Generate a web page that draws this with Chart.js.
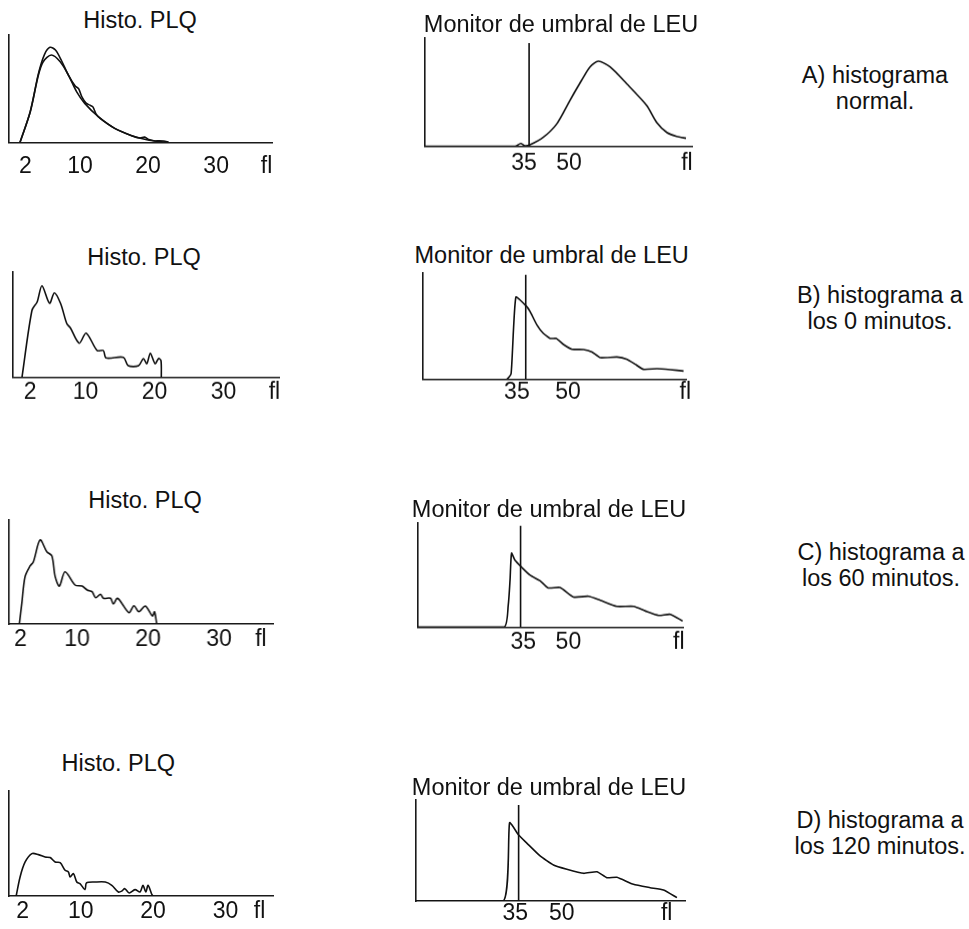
<!DOCTYPE html>
<html lang="es">
<head>
<meta charset="utf-8">
<title>Histogramas PLQ y monitor de umbral de LEU</title>
<script src="https://cdn.jsdelivr.net/npm/chart.js@4.4.1/dist/chart.umd.min.js"></script>
<style>
    html, body { margin: 0; padding: 0; background: #fff; }
    body { position: relative; width: 969px; height: 929px; overflow: hidden; font-family: "Liberation Sans", Arial, sans-serif; color: #111; }
    .panel { position: absolute; }
    .label { position: absolute; transform: translate(-50%, -50%); white-space: nowrap; font-size: 23.5px; line-height: 26px; text-align: center; }
</style>
</head>
<body>
<script>
const plqTicks = [2, 10, 20, 30];
const leuTicks = [35, 50];
const unitLabel = 'fl';

// A) histograma normal
const plqAFl = [1.2, 2.7, 3.9, 4.6, 5.8, 7.1, 8.3, 9.5, 10.7, 12.7, 15.1, 17.6, 19.5, 21.0, 23.0];
const plqASmooth = [0, 28.5, 62.7, 75.1, 81.4, 75.1, 62.7, 47.2, 36.3, 23.9, 13.0, 6.2, 2.8, 1.2, 0];
const plqAMeasFl = [1.2, 2.7, 3.9, 4.8, 5.6, 6.4, 7.3, 8.3, 9.3, 9.8, 10.3, 10.9, 11.5, 11.9, 12.4, 13.0, 15.1, 17.6, 18.8, 19.5, 20.1, 21.0, 21.6, 22.3, 23.0];
const plqAMeas = [0, 28.5, 64, 82, 88.5, 86, 76, 62.7, 52.5, 50, 42, 36.5, 34.5, 33, 26, 22, 13, 6.2, 4, 4.8, 2.5, 1.2, 1.4, 1.2, 0];
const leuAFl = [2, 32, 33.9, 35.3, 37, 41.4, 45.9, 50.3, 54.2, 57, 59.8, 63.7, 69.2, 75.9, 79.2, 82.6, 85.9, 89];
const leuA = [0, 0, 2.5, 0.5, 1.4, 8.2, 20.6, 42.3, 60.9, 73.3, 78.6, 73.3, 57.9, 37.7, 22.1, 12.8, 9.1, 7.3];

// B) 0 minutos
const plqBFl = [0.8, 2.25, 3.0, 3.7, 4.8, 5.5, 6.4, 7.3, 7.8, 9.1, 10.1, 11.7, 12.6, 13.0, 15.5, 16.2, 17.7, 18.4, 18.9, 19.4, 20.1, 20.6, 20.95, 21.0];
const plqB = [0, 63.7, 71.6, 86.9, 70.4, 80.2, 70.1, 51.0, 47.2, 32.5, 42.0, 25.5, 25.5, 18.5, 19.1, 11.2, 11.2, 17.9, 13.1, 22.9, 13.1, 17.9, 16, 0];
const leuBFl = [7.4, 31.9, 33.3, 34.7, 37.9, 38.9, 40.9, 42.8, 44.8, 46.6, 48.7, 51.2, 54.6, 57.1, 59.5, 64.4, 67.4, 69.8, 72.2, 76.2, 80.1, 84.0];
const leuB = [0, 0, 5.4, 77.3, 68.4, 63.7, 51.1, 43.2, 38.5, 38.5, 32.8, 28.4, 28.1, 25.8, 20.5, 21.1, 18.9, 14.2, 9.5, 10.1, 9.2, 7.9];

// C) 60 minutos
const plqCFl = [1.85, 2.2, 2.66, 3.37, 3.83, 4.78, 5.73, 6.44, 6.9, 7.5, 8.3, 9.7, 10.7, 11.4, 12.1, 12.6, 13.3, 13.7, 14.7, 15.1, 15.7, 17.3, 18.0, 18.7, 19.6, 20.6, 20.9, 21.2];
const plqC = [0, 19.9, 45.5, 55.8, 59.9, 80.8, 69.5, 65.4, 45.5, 36.5, 50.3, 37.5, 36.5, 32.7, 31.1, 25.3, 28.6, 24.7, 24.7, 19.2, 24.7, 10.9, 17.6, 11.8, 17.3, 7.7, 11.8, 0.7];
const leuCFl = [0, 28.6, 30.0, 30.6, 31.1, 32.2, 34.5, 37.2, 40.6, 43.3, 47.2, 51.7, 56.7, 60.6, 66.1, 71.7, 75.6, 80.0, 83.9, 88.0];
const leuC = [0, 0, 21, 45.2, 71, 64.5, 57.4, 50, 44.5, 37.7, 38.1, 29, 29.7, 25.8, 20, 20, 15.5, 11.3, 12.3, 5.8];

// D) 120 minutos
const plqDFl = [1.09, 1.64, 2.33, 3.26, 4.17, 5.09, 5.78, 6.47, 7.16, 7.85, 8.3, 8.54, 9.0, 9.46, 9.9, 10.6, 10.8, 12.0, 13.4, 14.3, 15.2, 15.7, 16.1, 16.7, 17.5, 18.2, 18.6, 19.0, 19.3, 19.8, 20.0];
const plqD = [0, 18.4, 32.4, 40.4, 39.4, 37.1, 36.6, 32.4, 31.8, 24.5, 22.9, 18.1, 21.3, 13.3, 11.8, 6.1, 12.4, 13.3, 13.3, 10.2, 3.8, 4.8, 7, 2.9, 6.1, 3.8, 10.2, 3.8, 10.2, 1.9, 0];
const leuDFl = [3.1, 31.2, 33.2, 36.1, 38.8, 43, 47.3, 51.6, 57, 61.3, 64.5, 67.7, 73, 78.4, 82.7, 87];
const leuD = [0, 0, 77.5, 65.3, 57.1, 44.6, 35.6, 31.4, 27.4, 29, 23.1, 23.5, 16.5, 13.2, 10.9, 3.3];

// threshold line of each LEU monitor (fl position, height)
const leuThresholdFl = [36.7, 37.6, 34.1, 36.1];
const leuThresholdTop = [95.3, 98.4, 97.4, 95];

const captions = [
    ['A) histograma', 'normal.'],
    ['B) histograma a', 'los 0 minutos.'],
    ['C) histograma a', 'los 60 minutos.'],
    ['D) histograma a', 'los 120 minutos.']
];

const fontFamily = '"Liberation Sans", Arial, sans-serif';
const ink = '#111';

const panels = [
    { title: 'Histo. PLQ', titleAt: [140, 20], box: [9, 35, 272, 142.3], range: [-0.42, 38.2], ticks: plqTicks, unitAt: 37.4, tickPad: 13,
      series: [[plqAFl, plqASmooth], [plqAMeasFl, plqAMeas]], tension: 0.3 },
    { title: 'Monitor de umbral de LEU', titleAt: [561, 24], box: [425, 38, 692, 145.5], range: [2, 91], ticks: leuTicks, unitAt: 89.3, tickPad: 6,
      series: [[leuAFl, leuA]], threshold: 0, tension: 0.25 },
    { title: 'Histo. PLQ', titleAt: [144, 257], box: [12.7, 272, 279, 376.7], range: [-0.5, 38.1], ticks: plqTicks, unitAt: 37.4, tickPad: 3.8,
      series: [[plqBFl, plqB]], tension: 0.3 },
    { title: 'Monitor de umbral de LEU', titleAt: [551.7, 255], box: [422.7, 273.3, 686, 379], range: [7.4, 84.8], ticks: leuTicks, unitAt: 84.5, tickPad: 1.2,
      series: [[leuBFl, leuB]], threshold: 1, tension: 0.15 },
    { title: 'Histo. PLQ', titleAt: [145, 500], box: [9, 520, 272.7, 624], range: [0.4, 37.7], ticks: plqTicks, unitAt: 35.9, tickPad: 4.5,
      series: [[plqCFl, plqC]], tension: 0.3 },
    { title: 'Monitor de umbral de LEU', titleAt: [549, 509], box: [417.7, 523.3, 682.7, 626.7], range: [0, 88.1], ticks: leuTicks, unitAt: 86.7, tickPad: 3.5,
      series: [[leuCFl, leuC]], threshold: 2, tension: 0.2 },
    { title: 'Histo. PLQ', titleAt: [118.3, 763.3], box: [9, 790.7, 273.3, 895.7], range: [0.1, 36.6], ticks: plqTicks, unitAt: 34.7, tickPad: 4.5,
      series: [[plqDFl, plqD]], tension: 0.3 },
    { title: 'Monitor de umbral de LEU', titleAt: [549, 786.7], box: [415.7, 800, 685, 901], range: [3.1, 89.7], ticks: leuTicks, unitAt: 83.7, tickPad: 0.8,
      series: [[leuDFl, leuD]], threshold: 3, tension: 0.15 }
];

const captionAt = [[875, 87.5], [880, 308], [881, 564.5], [880, 832.5]];

function addLabel(lines, x, y) {
    const el = document.createElement('div');
    el.className = 'label';
    el.style.left = x + 'px';
    el.style.top = y + 'px';
    lines.forEach((line, i) => {
        if (i > 0) {
            el.appendChild(document.createElement('br'));
        }
        el.appendChild(document.createTextNode(line));
    });
    document.body.appendChild(el);
}

function toPoints(xs, ys) {
    return xs.map((x, i) => ({ x, y: ys[i] }));
}

function makePanel(panel) {
    const padX = 14;
    const padTop = 2;
    const axisHeight = 42;
    const [x0, y0, x1, y1] = panel.box;

    const holder = document.createElement('div');
    holder.className = 'panel';
    holder.style.left = (x0 - padX) + 'px';
    holder.style.top = (y0 - padTop) + 'px';
    holder.style.width = (x1 - x0 + 2 * padX) + 'px';
    holder.style.height = (y1 - y0 + padTop + axisHeight) + 'px';
    const canvas = document.createElement('canvas');
    holder.appendChild(canvas);
    document.body.appendChild(holder);

    const datasets = panel.series.map(([xs, ys]) => ({
        data: toPoints(xs, ys),
        borderColor: ink,
        borderWidth: 1.6,
        pointRadius: 0,
        fill: false,
        tension: panel.tension
    }));

    if (panel.threshold !== undefined) {
        const t = leuThresholdFl[panel.threshold];
        datasets.push({
            data: [{ x: t, y: 0 }, { x: t, y: leuThresholdTop[panel.threshold] }],
            borderColor: ink,
            borderWidth: 1.6,
            pointRadius: 0,
            fill: false,
            tension: 0
        });
    }

    const axisBorder = { display: true, color: '#1a1a1a', width: 1.6 };

    new Chart(canvas, {
        type: 'line',
        data: { datasets },
        options: {
            responsive: true,
            maintainAspectRatio: false,
            animation: false,
            events: [],
            layout: { padding: { left: padX, right: padX, top: padTop, bottom: 0 } },
            plugins: {
                legend: { display: false },
                tooltip: { enabled: false }
            },
            scales: {
                x: {
                    type: 'linear',
                    min: panel.range[0],
                    max: panel.range[1],
                    afterFit: (scale) => { scale.height = axisHeight; },
                    afterBuildTicks: (scale) => {
                        scale.ticks = [...panel.ticks, panel.unitAt].map((value) => ({ value }));
                    },
                    grid: { display: false, drawTicks: false },
                    border: axisBorder,
                    ticks: {
                        autoSkip: false,
                        maxRotation: 0,
                        padding: panel.tickPad,
                        color: ink,
                        font: { family: fontFamily, size: 23, lineHeight: 1 },
                        callback: (value) => (value === panel.unitAt ? unitLabel : value)
                    }
                },
                y: {
                    min: 0,
                    max: 100,
                    afterFit: (scale) => { scale.width = 0; },
                    grid: { display: false, drawTicks: false },
                    border: axisBorder,
                    ticks: { display: false }
                }
            }
        }
    });

    addLabel([panel.title], panel.titleAt[0], panel.titleAt[1]);
}

panels.forEach(makePanel);
captions.forEach((lines, i) => addLabel(lines, captionAt[i][0], captionAt[i][1]));
</script>
</body>
</html>
